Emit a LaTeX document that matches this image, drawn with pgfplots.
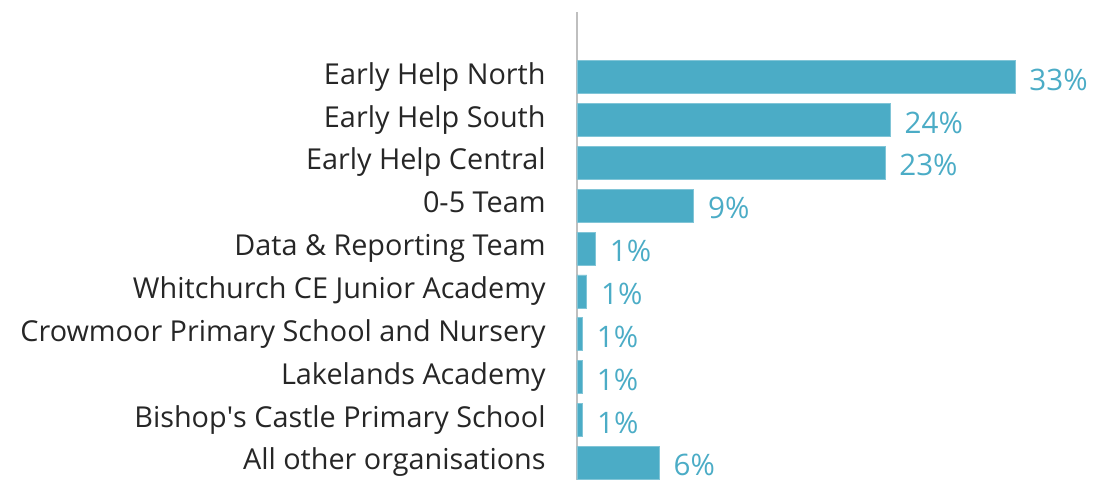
\documentclass[border=0pt]{standalone}
\usepackage{pgfplots}
\pgfplotsset{compat=1.18}
\usepackage{pgfplotstable}
\usepackage{fontspec}
\setmainfont{Open Sans}
\definecolor{barblue}{HTML}{4BACC6}
\definecolor{axgray}{HTML}{BFBFBF}
\pgfplotstableread{
y x lab
0 33.0 33
1 23.6 24
2 23.2 23
3 8.8 9
4 1.4 1
5 0.74 1
6 0.42 1
7 0.42 1
8 0.44 1
9 6.2 6
}\datatable
\begin{document}
\begin{tikzpicture}
\begin{axis}[
  name=ax,
  scale only axis,
  width=261.5pt, height=234pt,
  xmin=0, xmax=39.4,
  ymin=-1.52, ymax=9.40,
  y dir=reverse,
  axis x line=none,
  axis y line*=left,
  y axis line style={-, draw=axgray, line width=0.8pt},
  major tick length=0pt,
  ytick={0,...,9},
  yticklabels={Early Help North, Early Help South, Early Help Central, 0-5 Team, Data \& Reporting Team, Whitchurch CE Junior Academy, Crowmoor Primary School and Nursery, Lakelands Academy, Bishop\textquotesingle s Castle Primary School, All other organisations},
  yticklabel style={font=\fontsize{14.4}{16}\selectfont, text=black!85, anchor=base east, xshift=-15.5pt, yshift=-3.5pt, inner sep=0pt},
  clip=false,
  xbar,
  bar width=0.77,
  bar shift=0pt,
  point meta=explicit symbolic,
  nodes near coords={\pgfplotspointmeta\%},
  nodes near coords style={font=\fontsize{14.8}{16}\selectfont, text=barblue, anchor=base west, inner sep=0pt, xshift=7pt, yshift=-6.5pt},
]
\addplot[fill=barblue, draw=barblue!70!white, line width=0.4pt] table[x=x, y=y, meta=lab] {\datatable};
\end{axis}
\pgfresetboundingbox
\path ([xshift=-288.5pt]ax.south west) rectangle ([xshift=9.5pt,yshift=6pt]ax.north east);
\end{tikzpicture}
\end{document}
